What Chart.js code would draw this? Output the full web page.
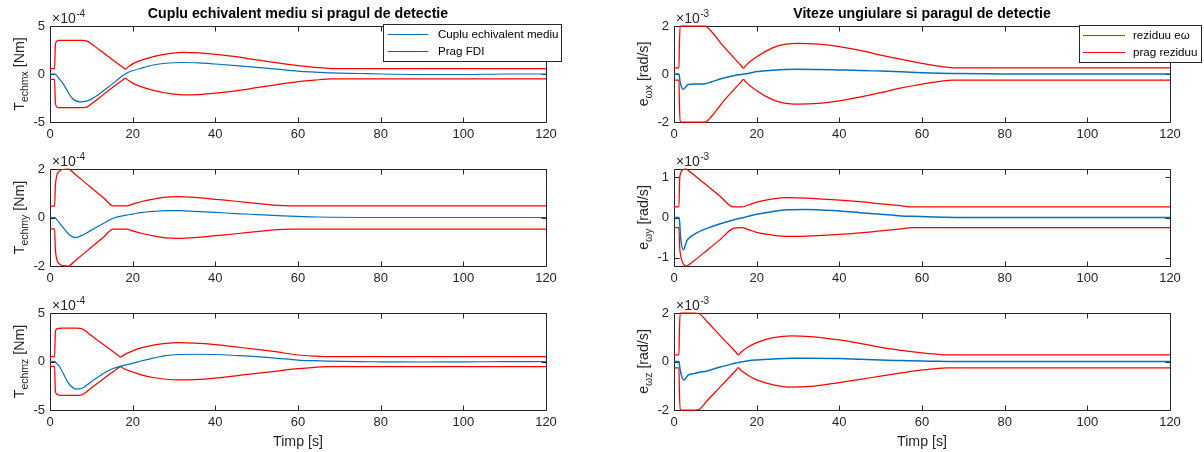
<!DOCTYPE html>
<html><head><meta charset="utf-8">
<script src="https://cdn.jsdelivr.net/npm/chart.js@4.4.1/dist/chart.umd.min.js"></script>
<style>
html,body{margin:0;padding:0;background:#fff;}
#wrap{position:relative;width:1204px;height:452px;overflow:hidden;background:#fff;}
#wrap canvas{position:absolute;left:0;top:0;}
</style></head><body><div id="wrap">
<canvas id="c1" width="1204" height="452"></canvas>
<canvas id="c2" width="1204" height="452"></canvas>
<canvas id="c3" width="1204" height="452"></canvas>
<canvas id="c4" width="1204" height="452"></canvas>
<canvas id="c5" width="1204" height="452"></canvas>
<canvas id="c6" width="1204" height="452"></canvas>
</div>
<script>
// ---------- tick labels ----------
const xTicks = [0, 20, 40, 60, 80, 100, 120];
const yTicks1 = [-5, 0, 5];
const yTicks2 = [-2, 0, 2];
const yTicks3 = [-5, 0, 5];
const yTicks4 = [-2, 0, 2];
const yTicks5 = [-1, 0, 1];
const yTicks6 = [-2, 0, 2];

// ---------- texts ----------
const titleLeft = 'Cuplu echivalent mediu si pragul de detectie';
const titleRight = 'Viteze ungiulare si paragul de detectie';
const xLabel = 'Timp [s]';
const legendLeft = ['Cuplu echivalent mediu', 'Prag FDI'];
const legendRight = ['reziduu e\u03C9', 'prag reziduu'];

// ---------- subplot 1: T_echmx (x1e-4 Nm) ----------
const p1Time  = [0,1.1,1.3,1.6,2,3,4,5.2,7.3,8,9,10,12,14,16,17.5,18.2,19,20,22,25,28,32,36,40,45,50,55,60,64,68,75,80,90,100,110,120];
const p1Upper = [0.55,0.55,3.0,3.4,3.5,3.5,3.5,3.5,3.5,3.5,3.42,3.15,2.5,1.85,1.2,0.74,0.52,0.76,1.05,1.42,1.8,2.08,2.26,2.2,2.05,1.8,1.46,1.15,0.87,0.7,0.57,0.57,0.57,0.57,0.57,0.57,0.57];
const p1Lower = [-0.55,-0.55,-3.0,-3.4,-3.5,-3.5,-3.5,-3.5,-3.5,-3.5,-3.42,-3.12,-2.45,-1.78,-1.12,-0.64,-0.45,-0.68,-0.95,-1.32,-1.7,-1.98,-2.18,-2.14,-2.0,-1.75,-1.43,-1.1,-0.8,-0.64,-0.52,-0.52,-0.52,-0.52,-0.52,-0.52,-0.52];
const p1Blue  = [0,0,-0.03,-0.15,-0.38,-0.9,-1.6,-2.45,-2.9,-2.88,-2.8,-2.62,-2.05,-1.4,-0.72,-0.2,0.0,0.18,0.34,0.6,0.94,1.12,1.2,1.15,1.04,0.88,0.7,0.5,0.3,0.2,0.12,0.05,0.0,-0.05,-0.05,0,0];

// ---------- subplot 2: T_echmy (x1e-4 Nm) ----------
const p2Time  = [0,1.1,1.3,1.6,2.2,3,4.5,6,8,10,13,15.3,18.5,20,22,25,28,31,35,40,45,50,55,58,65,80,100,120];
const p2Upper = [0.47,0.47,1.3,1.7,1.9,1.98,2.0,1.79,1.51,1.23,0.8,0.48,0.48,0.55,0.65,0.76,0.84,0.86,0.83,0.75,0.67,0.58,0.5,0.48,0.48,0.48,0.48,0.48];
const p2Lower = [-0.47,-0.47,-1.3,-1.7,-1.9,-1.98,-2.0,-1.79,-1.51,-1.23,-0.8,-0.48,-0.48,-0.55,-0.65,-0.76,-0.84,-0.86,-0.83,-0.75,-0.67,-0.58,-0.5,-0.48,-0.48,-0.48,-0.48,-0.48];
const p2Blue  = [0,0,-0.02,-0.08,-0.2,-0.38,-0.68,-0.83,-0.72,-0.52,-0.24,-0.03,0.1,0.14,0.2,0.25,0.28,0.28,0.25,0.21,0.16,0.12,0.08,0.06,0.02,0,0,0];

// ---------- subplot 3: T_echmz (x1e-4 Nm) ----------
const p3Time  = [0,1.1,1.3,1.6,2,3,4,5,6.2,7.3,8,10,12,13,15,16.5,17.1,17.8,20,22,25,28,31,35,40,45,50,55,60,64,67,75,80,90,100,110,120];
const p3Upper = [0.5,0.5,3.0,3.35,3.42,3.45,3.45,3.45,3.45,3.42,3.32,2.67,2.04,1.72,1.1,0.63,0.45,0.66,1.1,1.4,1.68,1.86,1.94,1.9,1.75,1.5,1.25,0.98,0.67,0.55,0.5,0.5,0.5,0.5,0.5,0.5,0.5];
const p3Lower = [-0.5,-0.5,-3.0,-3.35,-3.45,-3.5,-3.5,-3.5,-3.5,-3.47,-3.37,-2.72,-2.08,-1.76,-1.14,-0.68,-0.52,-0.72,-1.08,-1.38,-1.65,-1.83,-1.9,-1.87,-1.72,-1.47,-1.22,-0.98,-0.74,-0.6,-0.53,-0.53,-0.53,-0.53,-0.53,-0.53,-0.53];
const p3Blue  = [0,0,-0.05,-0.2,-0.36,-1.05,-1.9,-2.5,-2.84,-2.8,-2.7,-2.08,-1.5,-1.22,-0.77,-0.55,-0.47,-0.4,-0.19,0.05,0.35,0.6,0.72,0.75,0.72,0.62,0.5,0.33,0.15,0.08,0.04,-0.02,-0.03,-0.05,-0.03,-0.02,0];

// ---------- subplot 4: e_wx (x1e-3 rad/s) ----------
const p4Time  = [0,1.2,1.3,1.5,2.25,3.4,5,7,7.5,9,12,15,16.2,16.8,17.4,20,24,27,30,35,40,45,50,55,60,64,67.5,80,100,120];
const p4Upper = [0.26,0.26,1.2,2.0,2.0,2.0,2.0,2.0,2.0,1.78,1.15,0.58,0.36,0.24,0.36,0.72,1.1,1.24,1.28,1.24,1.14,0.98,0.79,0.61,0.44,0.33,0.26,0.26,0.26,0.26];
const p4Lower = [-0.26,-0.26,-1.2,-2.0,-2.0,-2.0,-2.0,-2.0,-2.0,-1.78,-1.13,-0.56,-0.34,-0.22,-0.34,-0.7,-1.08,-1.22,-1.25,-1.22,-1.12,-0.96,-0.78,-0.58,-0.42,-0.32,-0.26,-0.26,-0.26,-0.26];
const p4Blue  = [0,0,-0.1,-0.35,-0.64,-0.44,-0.42,-0.42,-0.41,-0.33,-0.17,-0.05,-0.02,0.0,0.01,0.1,0.16,0.19,0.2,0.19,0.17,0.15,0.12,0.09,0.05,0.03,0.02,0.0,0.0,0.0];

// ---------- subplot 5: e_wy (x1e-3 rad/s) ----------
const p5Time  = [0,1.2,1.35,1.6,2.25,3,3.4,5,8,11,14.4,16.4,18,20,24,27.3,32,40,45,50,55,57.5,70,100,120];
const p5Upper = [0.26,0.26,0.9,1.1,1.19,1.2,1.17,1.04,0.79,0.54,0.26,0.26,0.31,0.38,0.46,0.49,0.48,0.43,0.39,0.34,0.29,0.26,0.26,0.26,0.26];
const p5Lower = [-0.25,-0.25,-0.7,-0.94,-1.15,-1.2,-1.18,-1.06,-0.81,-0.56,-0.27,-0.25,-0.3,-0.37,-0.44,-0.47,-0.46,-0.42,-0.38,-0.33,-0.28,-0.25,-0.25,-0.25,-0.25];
const p5Blue  = [0,0,-0.1,-0.5,-0.8,-0.6,-0.53,-0.41,-0.27,-0.16,-0.06,-0.01,0.03,0.08,0.15,0.19,0.2,0.16,0.12,0.08,0.04,0.03,0.0,0.0,0.0];

// ---------- subplot 6: e_wz (x1e-3 rad/s) ----------
const p6Time  = [0,1.2,1.3,1.5,2.4,3.4,5,6,8,11,13,15,15.6,16.2,18,20,24,28.5,33,40,45,50,55,60,63,66,80,100,120];
const p6Upper = [0.27,0.27,1.2,2.0,2.0,2.0,2.0,1.98,1.64,1.1,0.74,0.38,0.27,0.38,0.61,0.78,0.98,1.06,1.03,0.89,0.75,0.58,0.46,0.36,0.31,0.27,0.27,0.27,0.27];
const p6Lower = [-0.26,-0.26,-1.2,-2.0,-2.0,-2.0,-2.0,-1.98,-1.62,-1.08,-0.72,-0.36,-0.25,-0.36,-0.58,-0.76,-0.96,-1.06,-1.03,-0.87,-0.74,-0.6,-0.47,-0.35,-0.3,-0.26,-0.26,-0.26,-0.26];
const p6Blue  = [0,0,-0.1,-0.35,-0.76,-0.56,-0.49,-0.45,-0.39,-0.24,-0.15,-0.06,-0.04,-0.02,0.03,0.06,0.1,0.13,0.13,0.12,0.09,0.06,0.04,0.02,0.01,0.0,0.0,0.0,0.0];

// ---------- styling ----------
const FONT = "'Liberation Sans', Arial, Helvetica, sans-serif";
const AXC = '#262626';
const BLUE = '#0072BD';
const RED = '#FF0000';
const FS = 13;        // tick labels
const FL = 14.2;      // axis labels / title
const FG = 11.6;      // legend
const TICKLEN = 5;
const W = 1204, H = 452;
const YW = 40, XH = 22;

const decor = {
  id: 'decor',
  beforeDatasetsDraw(chart, args, o) {
    const {ctx, chartArea: a, scales} = chart;
    ctx.save();
    ctx.strokeStyle = AXC; ctx.lineWidth = 1;
    const L = Math.round(a.left) + 0.5, R = Math.round(a.right) + 0.5;
    const T = Math.round(a.top) + 0.5, B = Math.round(a.bottom) + 0.5;
    ctx.beginPath();
    ctx.rect(L, T, R - L, B - T);
    scales.x.ticks.forEach(t => {
      const x = Math.round(scales.x.getPixelForValue(t.value)) + 0.5;
      ctx.moveTo(x, B); ctx.lineTo(x, B - TICKLEN);
      ctx.moveTo(x, T); ctx.lineTo(x, T + TICKLEN);
    });
    scales.y.ticks.forEach(t => {
      const y = Math.round(scales.y.getPixelForValue(t.value)) + 0.5;
      ctx.moveTo(L, y); ctx.lineTo(L + TICKLEN, y);
      ctx.moveTo(R, y); ctx.lineTo(R - TICKLEN, y);
    });
    ctx.stroke();
    ctx.restore();
  },
  afterDraw(chart, args, o) {
    const {ctx, chartArea: a} = chart;
    ctx.save();
    ctx.fillStyle = AXC;
    // exponent label
    ctx.textBaseline = 'alphabetic';
    ctx.textAlign = 'left';
    ctx.font = '14px ' + FONT;
    const ex = a.left + 2, ey = a.top - 3;
    ctx.fillText('\u00D710', ex, ey);
    const wx = ctx.measureText('\u00D710').width;
    ctx.font = '10px ' + FONT;
    ctx.fillText(o.exponent, ex + wx + 0.5, ey - 6);
    // y label
    ctx.save();
    const cy = (a.top + a.bottom) / 2;
    ctx.translate(o.ylabX, cy);
    ctx.rotate(-Math.PI / 2);
    ctx.font = FL + 'px ' + FONT;
    const w1 = ctx.measureText(o.ylab[0]).width;
    const w3 = ctx.measureText(o.ylab[2]).width;
    ctx.font = '10.5px ' + FONT;
    const w2 = ctx.measureText(o.ylab[1]).width;
    let s = -(w1 + w2 + w3) / 2;
    ctx.font = FL + 'px ' + FONT;
    ctx.fillText(o.ylab[0], s, 0);
    ctx.font = '10.5px ' + FONT;
    ctx.fillText(o.ylab[1], s + w1, 3.5);
    ctx.font = FL + 'px ' + FONT;
    ctx.fillText(o.ylab[2], s + w1 + w2, 0);
    ctx.restore();
    const cx = (a.left + a.right) / 2;
    // title
    if (o.title) {
      ctx.font = 'bold ' + FL + 'px ' + FONT;
      ctx.textAlign = 'center';
      ctx.fillStyle = '#000';
      ctx.fillText(o.title, cx, 18);
      ctx.fillStyle = AXC;
    }
    // x label
    if (o.xlabel) {
      ctx.font = FL + 'px ' + FONT;
      ctx.textAlign = 'center';
      ctx.fillText(o.xlabel, cx, 446);
    }
    // legend
    if (o.legend) {
      const g = o.legend;
      ctx.fillStyle = '#fff';
      ctx.fillRect(g.x, g.y, g.w, g.h);
      ctx.strokeStyle = AXC; ctx.lineWidth = 1;
      ctx.strokeRect(g.x + 0.5, g.y + 0.5, g.w, g.h);
      ctx.font = FG + 'px ' + FONT;
      ctx.textAlign = 'left';
      ctx.textBaseline = 'middle';
      const ds = chart.data.datasets;
      [0, 1].forEach((i, k) => {
        const y = g.y + g.row0 + k * g.dy;
        ctx.strokeStyle = ds[i].borderColor;
        ctx.lineWidth = 1.2;
        ctx.beginPath();
        ctx.moveTo(g.x + g.l0, y + 0.5); ctx.lineTo(g.x + g.l1, y + 0.5);
        ctx.stroke();
        ctx.fillStyle = '#000';
        ctx.fillText(ds[i].label, g.x + g.tx, y + 1);
      });
    }
    ctx.restore();
  }
};

function pts(t, v) { return t.map((x, i) => ({x: x, y: v[i]})); }

function makeChart(id, c) {
  const a = c.area;
  const ds = (label, t, v, color, w) => ({
    label: label, data: pts(t, v), borderColor: color, borderWidth: w,
    pointRadius: 0, fill: false, cubicInterpolationMode: 'monotone', clip: 3
  });
  new Chart(document.getElementById(id), {
    type: 'line',
    data: {
      datasets: [
        ds(c.legendLabels ? c.legendLabels[0] : 'blue', c.time, c.blue, BLUE, c.blueW || 1.2),
        ds(c.legendLabels ? c.legendLabels[1] : 'upper', c.time, c.upper, RED, 1.25),
        ds('lower', c.time, c.lower, RED, 1.25)
      ]
    },
    options: {
      responsive: false, animation: false, devicePixelRatio: 1, events: [],
      layout: { padding: { left: a[0] - YW, right: W - a[1], top: a[2], bottom: H - a[3] - XH } },
      plugins: {
        legend: { display: false }, tooltip: { enabled: false },
        decor: c.decor
      },
      scales: {
        x: {
          type: 'linear', min: 0, max: 120,
          afterBuildTicks: s => { s.ticks = xTicks.map(v => ({value: v})); },
          afterFit: s => { s.height = XH; },
          grid: { display: false, drawTicks: false }, border: { display: false },
          ticks: { color: AXC, font: { family: FONT, size: FS }, padding: 5, maxRotation: 0, autoSkip: false, callback: v => String(v) }
        },
        y: {
          type: 'linear', min: c.ymin, max: c.ymax,
          afterBuildTicks: s => { s.ticks = c.yTicks.map(v => ({value: v})); },
          afterFit: s => { s.width = YW; },
          grid: { display: false, drawTicks: false }, border: { display: false },
          ticks: { color: AXC, font: { family: FONT, size: FS }, padding: 5, autoSkip: false, callback: v => String(v) }
        }
      }
    },
    plugins: [decor]
  });
}

const LA = [50, 546], RA = [674, 1170];
const R1 = [26, 122], R2 = [169, 266], R3 = [313, 410];
const legL = { x: 383, y: 24, w: 178, h: 37, row0: 10, dy: 17, l0: 5, l1: 45, tx: 55 };
const legR = { x: 1079, y: 25, w: 122, h: 37, row0: 10, dy: 17, l0: 4, l1: 46, tx: 54 };

makeChart('c1', { area: [LA[0], LA[1], R1[0], R1[1]], time: p1Time, blue: p1Blue, upper: p1Upper, lower: p1Lower,
  ymin: -5, ymax: 5, yTicks: yTicks1, legendLabels: legendLeft,
  decor: { exponent: '-4', ylab: ['T', 'echmx', ' [Nm]'], ylabX: 24, title: titleLeft, legend: legL } });
makeChart('c2', { area: [LA[0], LA[1], R2[0], R2[1]], time: p2Time, blue: p2Blue, upper: p2Upper, lower: p2Lower,
  ymin: -2, ymax: 2, yTicks: yTicks2,
  decor: { exponent: '-4', ylab: ['T', 'echmy', ' [Nm]'], ylabX: 24 } });
makeChart('c3', { area: [LA[0], LA[1], R3[0], R3[1]], time: p3Time, blue: p3Blue, upper: p3Upper, lower: p3Lower,
  ymin: -5, ymax: 5, yTicks: yTicks3,
  decor: { exponent: '-4', ylab: ['T', 'echmz', ' [Nm]'], ylabX: 24, xlabel: xLabel } });
makeChart('c4', { area: [RA[0], RA[1], R1[0], R1[1]], time: p4Time, blue: p4Blue, upper: p4Upper, lower: p4Lower,
  ymin: -2, ymax: 2, yTicks: yTicks4, legendLabels: legendRight, blueW: 1.5,
  decor: { exponent: '-3', ylab: ['e', '\u03C9x', ' [rad/s]'], ylabX: 648, title: titleRight, legend: legR } });
makeChart('c5', { area: [RA[0], RA[1], R2[0], R2[1]], time: p5Time, blue: p5Blue, upper: p5Upper, lower: p5Lower,
  ymin: -1.2, ymax: 1.2, yTicks: yTicks5, blueW: 1.5,
  decor: { exponent: '-3', ylab: ['e', '\u03C9y', ' [rad/s]'], ylabX: 648 } });
makeChart('c6', { area: [RA[0], RA[1], R3[0], R3[1]], time: p6Time, blue: p6Blue, upper: p6Upper, lower: p6Lower,
  ymin: -2, ymax: 2, yTicks: yTicks6, blueW: 1.5,
  decor: { exponent: '-3', ylab: ['e', '\u03C9z', ' [rad/s]'], ylabX: 648, xlabel: xLabel } });
</script>
</body></html>
